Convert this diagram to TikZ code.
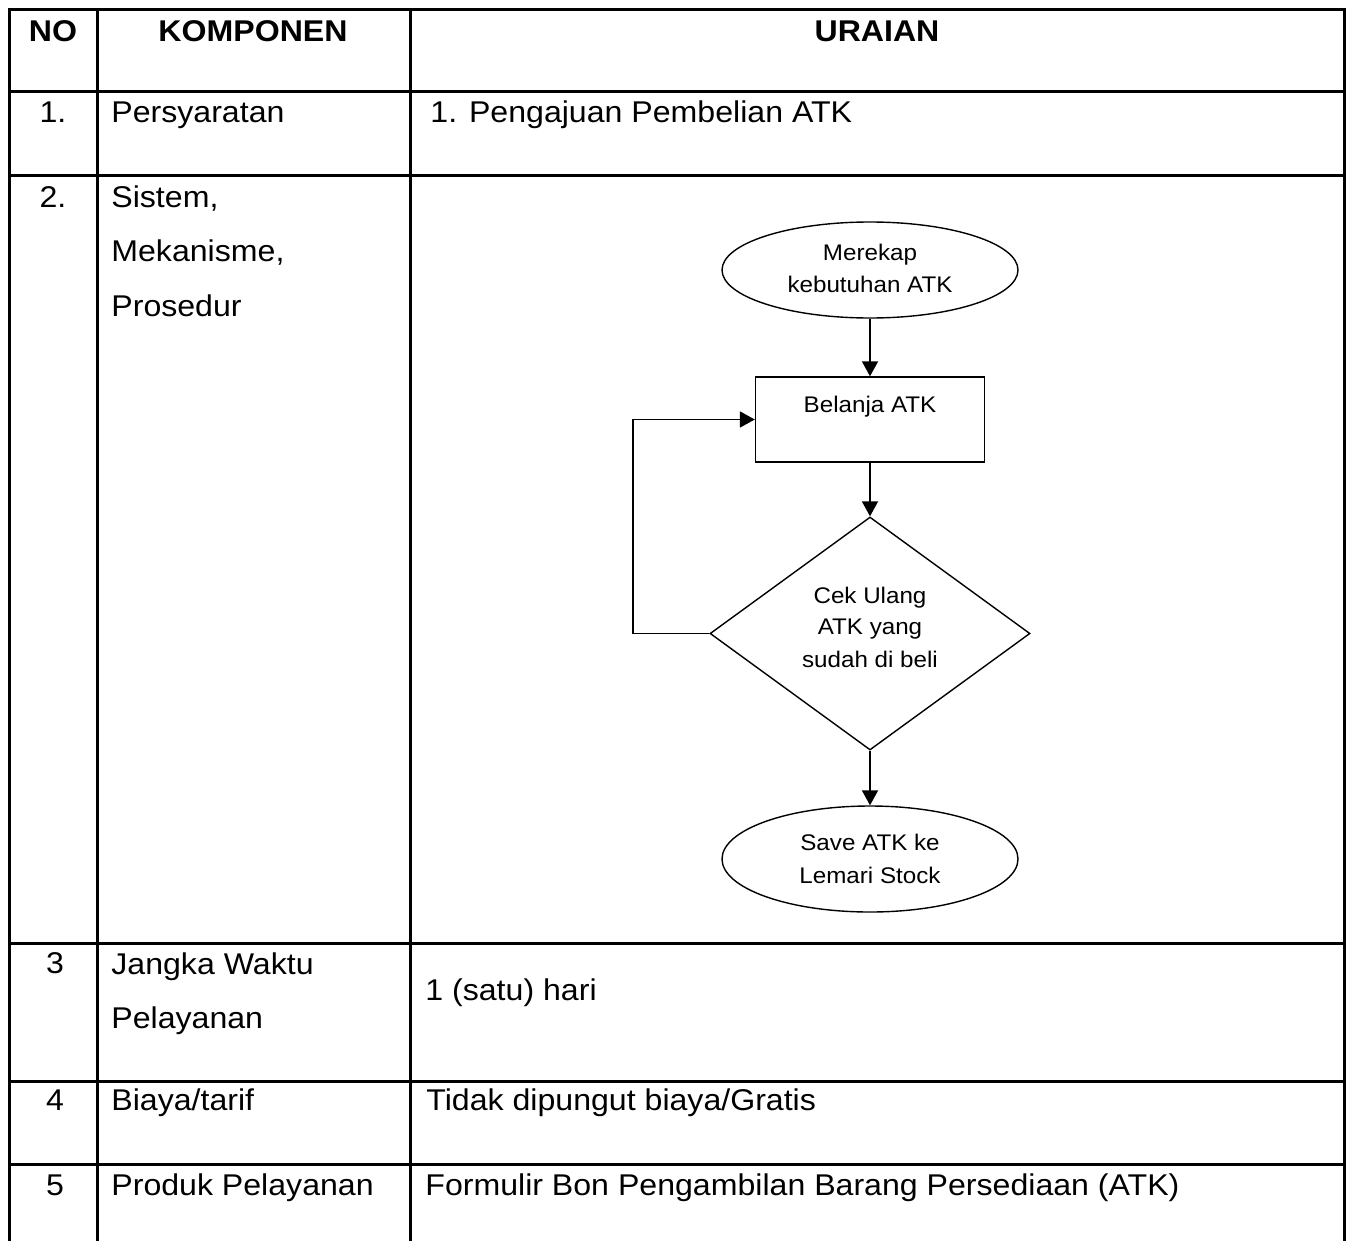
\documentclass[tikz,border=0pt]{standalone}
\usepackage{fontspec}
\setmainfont[FakeStretch=1.07]{Liberation Sans}
\usetikzlibrary{shapes.geometric,arrows.meta}
\begin{document}
\begin{tikzpicture}[x=0.5pt,y=-0.5pt,
  grid/.style={line width=1.5pt},
  celltext/.style={inner sep=0,anchor=base west,font=\fontsize{15}{18}\selectfont},
  numtext/.style={inner sep=0,anchor=base,font=\fontsize{15}{18}\selectfont},
  headtext/.style={inner sep=0,anchor=base,font=\fontsize{15}{18}\selectfont\bfseries},
  flowtext/.style={inner sep=0,anchor=base,font=\fontsize{11.3}{13}\selectfont},
  terminal/.style={ellipse,draw,line width=0.7pt,minimum width=148pt,minimum height=48pt,inner sep=0},
  process/.style={rectangle,draw,line width=0.7pt,minimum width=114.5pt,minimum height=42.5pt,inner sep=0},
  decision/.style={diamond,draw,line width=0.7pt,minimum width=160pt,minimum height=116.5pt,inner sep=0},
  flow/.style={line width=0.9pt,-{Triangle[length=7.5pt,width=8pt]}}
]
\useasboundingbox (0,0) rectangle (1352,1241);

% table grid
\draw[grid] (9,1241) -- (9,10) -- (1344,10) -- (1344,1241);
\draw[grid] (97,10) -- (97,1241);
\draw[grid] (410,10) -- (410,1241);
\foreach \yy in {92,176,943,1081,1164}
  \draw[grid] (9,\yy) -- (1344,\yy);

% header row
\node[headtext] (hno) at (53,42) {NO};
\node[headtext] (hkomp) at (253,42) {KOMPONEN};
\node[headtext] (hurai) at (877,42) {URAIAN};

% row 1
\node[numtext] (n1) at (53,123) {1.};
\node[celltext] (k1) at (111,123) {Persyaratan};
\node[celltext] (u1) at (430,123) {1. Pengajuan Pembelian ATK};

% row 2
\node[numtext] (n2) at (53,207) {2.};
\node[celltext] (k2a) at (111,207) {Sistem,};
\node[celltext] (k2b) at (111,261) {Mekanisme,};
\node[celltext] (k2c) at (111,316) {Prosedur};

% flowchart
\node[terminal] (start) at (870,270) {};
\node[process] (buy) at (870,419.5) {};
\node[decision] (check) at (870,633.5) {};
\node[terminal,minimum height=53pt] (store) at (870,859) {};

\node[flowtext] (t1a) at (870,260) {Merekap};
\node[flowtext] (t1b) at (870,292) {kebutuhan ATK};
\node[flowtext] (t2) at (870,412) {Belanja ATK};
\node[flowtext] (t3a) at (870,603) {Cek Ulang};
\node[flowtext] (t3b) at (870,634) {ATK yang};
\node[flowtext] (t3c) at (870,667) {sudah di beli};
\node[flowtext] (t4a) at (870,850) {Save ATK ke};
\node[flowtext] (t4b) at (870,883) {Lemari Stock};

\draw[flow] (start.south) -- (buy.north);
\draw[flow] (buy.south) -- (check.north);
\draw[flow] (check.south) -- (store.north);
\draw[flow] (check.west) -- ++(-76,0) |- (buy.west);

% row 3
\node[numtext] (n3) at (55,973) {3};
\node[celltext] (k3a) at (111,974) {Jangka Waktu};
\node[celltext] (k3b) at (111,1028) {Pelayanan};
\node[celltext] (u3) at (425,1000) {1 (satu) hari};

% row 4
\node[numtext] (n4) at (55,1110) {4};
\node[celltext] (k4) at (111,1110) {Biaya/tarif};
\node[celltext] (u4) at (426,1110) {Tidak dipungut biaya/Gratis};

% row 5
\node[numtext] (n5) at (55,1195) {5};
\node[celltext] (k5) at (111,1195) {Produk Pelayanan};
\node[celltext] (u5) at (425,1195) {Formulir Bon Pengambilan Barang Persediaan (ATK)};
\end{tikzpicture}
\end{document}
